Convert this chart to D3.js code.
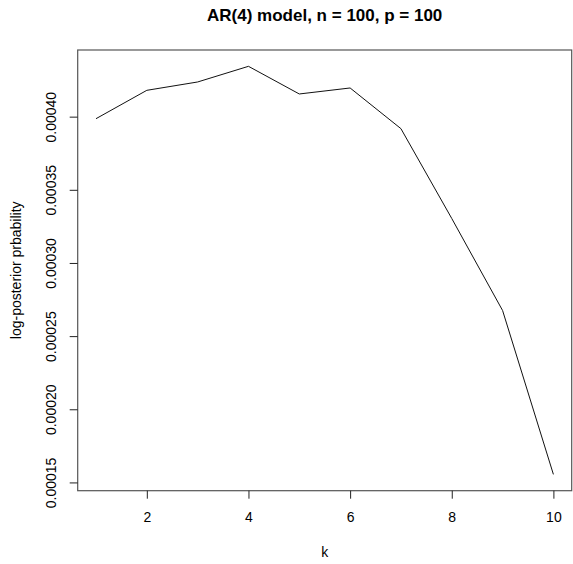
<!DOCTYPE html>
<html>
<head>
<meta charset="utf-8">
<script src="https://d3js.org/d3.v7.min.js"></script>
<style>
body { margin: 0; background: #fff; }
svg text { font-family: 'Liberation Sans', Arial, sans-serif; fill: #000; }
</style>
</head>
<body>
<svg id="chart"></svg>
<script>
// data
const ks = [1, 2, 3, 4, 5, 6, 7, 8, 9, 10];
const logPost = [0.0003986, 0.000418, 0.0004237, 0.0004344, 0.0004155,
                 0.0004196, 0.0003918, 0.0003304, 0.0002675, 0.0001555];
const xTicks = [2, 4, 6, 8, 10];
const yTicks = [0.00015, 0.00020, 0.00025, 0.00030, 0.00035, 0.00040];

const width = 573, height = 564;
const plotL = 77.7, plotR = 571.7, plotT = 50, plotB = 490.7;

const svg = d3.select("#chart").attr("width", width).attr("height", height);

// R style 4% padding around the data range
const pad = ext => { const d = (ext[1] - ext[0]) * 0.04; return [ext[0] - d, ext[1] + d]; };

const x = d3.scaleLinear().domain(pad(d3.extent(ks))).range([plotL, plotR]);
const y = d3.scaleLinear().domain(pad(d3.extent(logPost))).range([plotB, plotT]);

// box
svg.append("rect")
    .attr("x", plotL).attr("y", plotT)
    .attr("width", plotR - plotL).attr("height", plotB - plotT)
    .attr("fill", "none").attr("stroke", "#555").attr("stroke-width", 1.2);

// x axis
const gx = svg.append("g").attr("transform", "translate(0," + plotB + ")")
    .call(d3.axisBottom(x).tickValues(xTicks).tickSize(8).tickPadding(13).tickFormat(d3.format("d")));
gx.select(".domain").remove();
gx.selectAll("line").attr("stroke", "#222");
gx.selectAll("text").attr("font-size", 14).attr("fill", "#000");

// y axis with rotated labels
const gy = svg.append("g").attr("transform", "translate(" + plotL + ",0)")
    .call(d3.axisLeft(y).tickValues(yTicks).tickSize(8).tickFormat(d3.format(".5f")));
gy.select(".domain").remove();
gy.selectAll("line").attr("stroke", "#222");
gy.selectAll("text")
    .attr("font-size", 14)
    .attr("fill", "#000")
    .attr("x", null).attr("dy", null)
    .attr("text-anchor", "middle")
    .attr("transform", "translate(-22,0) rotate(-90)");

// line
const line = d3.line().x((d, i) => x(ks[i])).y(d => y(d));
svg.append("path")
    .datum(logPost)
    .attr("d", line)
    .attr("fill", "none")
    .attr("stroke", "#111")
    .attr("stroke-width", 1);

// title and axis labels
svg.append("text")
    .attr("x", (plotL + plotR) / 2).attr("y", 20.5)
    .attr("text-anchor", "middle")
    .attr("font-size", 17).attr("font-weight", "bold")
    .text("AR(4) model, n = 100, p = 100");

svg.append("text")
    .attr("x", (plotL + plotR) / 2).attr("y", 557)
    .attr("text-anchor", "middle")
    .attr("font-size", 14)
    .text("k");

svg.append("text")
    .attr("transform", "translate(21," + (plotT + plotB) / 2 + ") rotate(-90)")
    .attr("text-anchor", "middle")
    .attr("font-size", 14)
    .text("log-posterior prbability");
</script>
</body>
</html>
